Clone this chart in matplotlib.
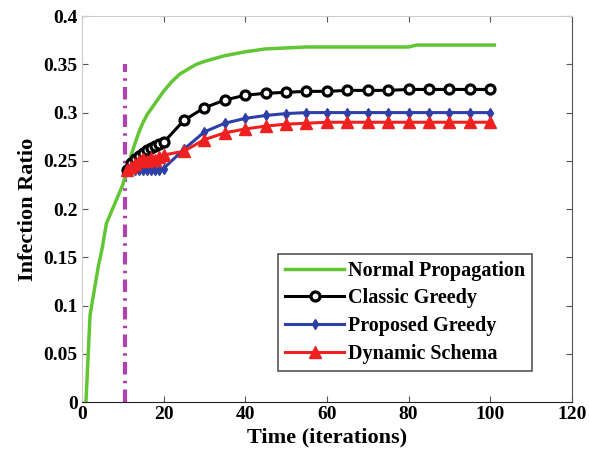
import matplotlib
matplotlib.use("Agg")
import matplotlib.pyplot as plt

plt.rcParams['font.family'] = ['Liberation Serif', 'DejaVu Serif']
plt.rcParams['font.weight'] = 'bold'

# Normal propagation
t_normal = [1, 2, 3, 4, 5, 6, 7, 8, 9, 10, 11, 12, 13, 14, 15, 16, 18, 20, 22, 24,
            26, 28, 30, 35, 40, 45, 50, 55, 60, 70, 80, 82, 90, 101]
normal = [0, 0.09, 0.115, 0.14, 0.16, 0.185, 0.195, 0.205, 0.215, 0.225, 0.24, 0.255,
          0.268, 0.28, 0.29, 0.298, 0.31, 0.322, 0.332, 0.34, 0.345, 0.35, 0.353,
          0.359, 0.363, 0.366, 0.367, 0.368, 0.368, 0.368, 0.368, 0.37, 0.37, 0.37]

# strategies start at iteration 11
t_strat = [11, 12, 13, 14, 15, 16, 17, 18, 19, 20, 25, 30, 35, 40, 45, 50, 55, 60,
           65, 70, 75, 80, 85, 90, 95, 100]
classic = [0.24, 0.248, 0.252, 0.255, 0.258, 0.261, 0.263, 0.265, 0.267, 0.269,
           0.292, 0.305, 0.313, 0.318, 0.320, 0.321, 0.322, 0.322, 0.323, 0.323,
           0.323, 0.324, 0.324, 0.324, 0.324, 0.324]
proposed = [0.24, 0.24, 0.24, 0.241, 0.24, 0.241, 0.241, 0.24, 0.241, 0.242,
            0.262, 0.280, 0.289, 0.294, 0.297, 0.299, 0.300, 0.300, 0.300, 0.300,
            0.300, 0.300, 0.300, 0.300, 0.300, 0.300]
dynamic = [0.24, 0.244, 0.247, 0.25, 0.252, 0.25, 0.253, 0.251, 0.254, 0.256,
           0.260, 0.272, 0.279, 0.283, 0.286, 0.288, 0.289, 0.29, 0.29, 0.29,
           0.29, 0.29, 0.29, 0.29, 0.29, 0.29]

switch_t = 10.5
switch_top = 0.35

fig = plt.figure(figsize=(5.89, 4.54), dpi=100)
ax = fig.add_axes([0.139, 0.1145, 0.832, 0.85])

ax.plot([switch_t, switch_t], [0, switch_top], color="#b040b0", lw=3,
        ls=(0, (3, 1.5, 0.6, 1.5)))
ax.plot(t_normal, normal, color="#62c634", lw=2.5, label="Normal Propagation")
ax.plot(t_strat, classic, color="black", lw=2.2, marker="o", ms=6.5, mfc="white",
        mec="black", mew=2.3, label="Classic Greedy")
ax.plot(t_strat, proposed, color="#2f3fa8", lw=2.2, marker="d", ms=5,
        label="Proposed Greedy")
ax.plot(t_strat, dynamic, color="#ee2020", lw=2.2, marker="^", ms=9,
        label="Dynamic Schema")

ax.set_xlim(0, 120)
ax.set_ylim(0, 0.4)
ax.set_xticks([0, 20, 40, 60, 80, 100, 120])
ax.set_yticks([0, 0.05, 0.1, 0.15, 0.2, 0.25, 0.3, 0.35, 0.4])
ax.set_yticklabels(["0", "0.05", "0.1", "0.15", "0.2", "0.25", "0.3", "0.35", "0.4"])
ax.tick_params(direction="in", top=True, right=True, labelsize=14, length=4,
               color="#555555", pad=3)
for s in ["top", "left"]:
    ax.spines[s].set_color("#cccccc")
ax.spines["right"].set_color("#555555")
ax.spines["bottom"].set_color("#222222")

ax.set_xlabel("Time (iterations)", fontsize=16, fontweight="bold", labelpad=3)
ax.set_ylabel("Infection Ratio", fontsize=16, fontweight="bold", labelpad=4)

leg = ax.legend(loc="lower right", bbox_to_anchor=(0.939, 0.055), fontsize=14.5,
                fancybox=False, framealpha=1, edgecolor="#555555",
                handlelength=2.9, handletextpad=0.2, borderpad=0.35,
                labelspacing=0.38)
leg.get_frame().set_linewidth(1.2)

fig.savefig("out.png", dpi=100)
